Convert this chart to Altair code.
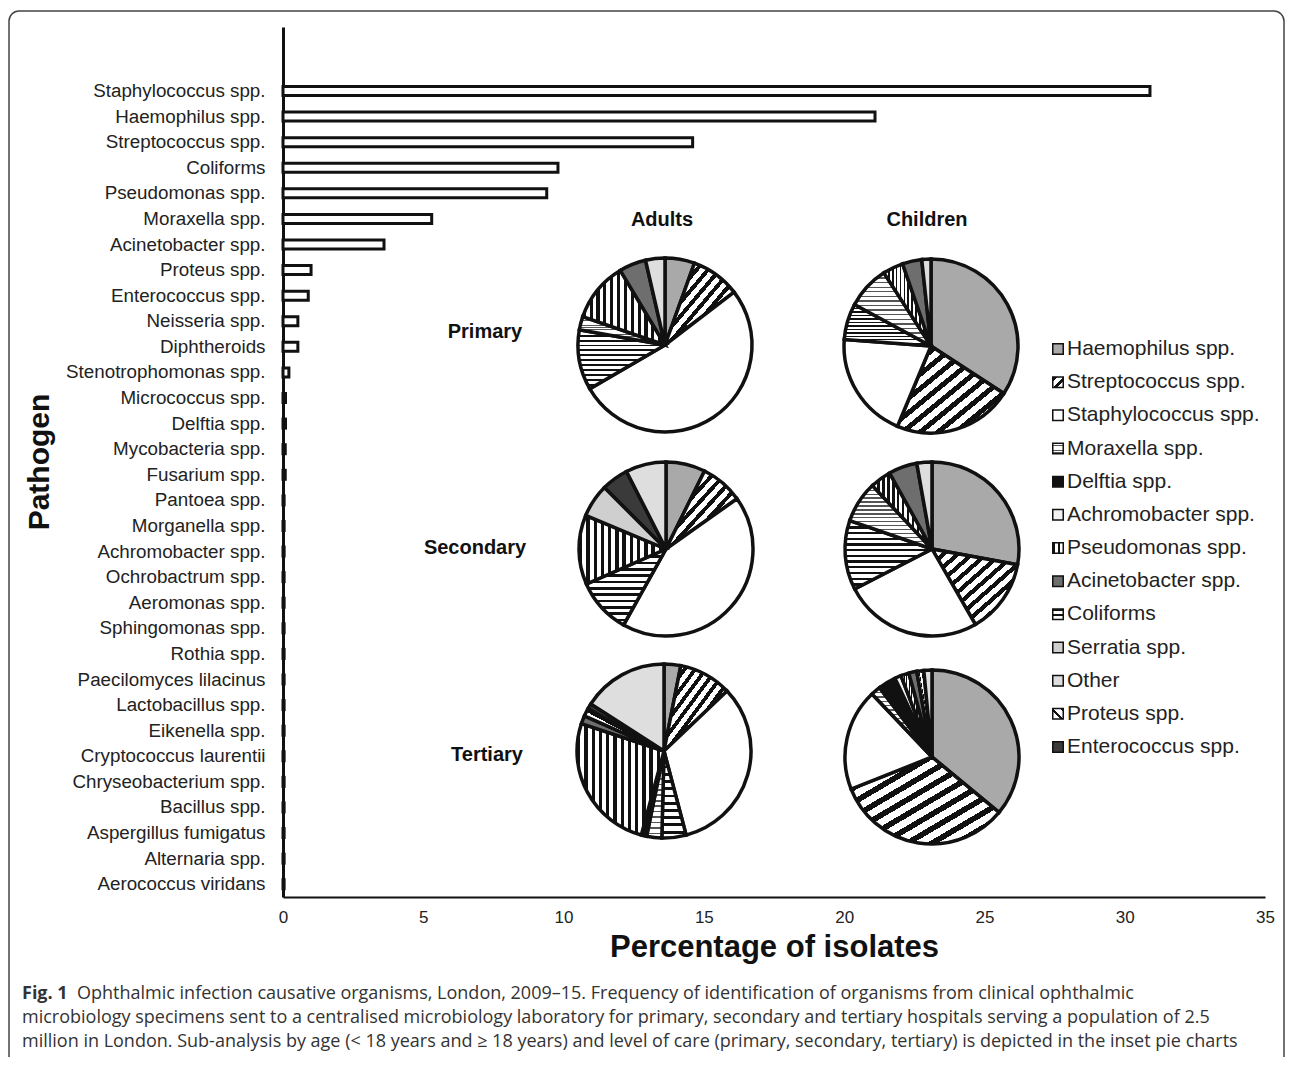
import math
import altair as alt
import pandas as pd

# ---------------- data ----------------
PATHOGENS = [
    "Staphylococcus spp.", "Haemophilus spp.", "Streptococcus spp.", "Coliforms",
    "Pseudomonas spp.", "Moraxella spp.", "Acinetobacter spp.", "Proteus spp.",
    "Enterococcus spp.", "Neisseria spp.", "Diphtheroids", "Stenotrophomonas spp.",
    "Micrococcus spp.", "Delftia spp.", "Mycobacteria spp.", "Fusarium spp.",
    "Pantoea spp.", "Morganella spp.", "Achromobacter spp.", "Ochrobactrum spp.",
    "Aeromonas spp.", "Sphingomonas spp.", "Rothia spp.", "Paecilomyces lilacinus",
    "Lactobacillus spp.", "Eikenella spp.", "Cryptococcus laurentii",
    "Chryseobacterium spp.", "Bacillus spp.", "Aspergillus fumigatus",
    "Alternaria spp.", "Aerococcus viridans",
]
PERCENT = [
    30.9, 21.1, 14.6, 9.8, 9.4, 5.3, 3.6, 1.0,
    0.9, 0.53, 0.53, 0.21, 0.09, 0.09, 0.08, 0.08,
    0.04, 0.04, 0.04, 0.04, 0.04, 0.04, 0.04, 0.04,
    0.04, 0.04, 0.04, 0.04, 0.04, 0.04, 0.04, 0.04,
]
X_TICKS = [0, 5, 10, 15, 20, 25, 30, 35]

PIE_CATEGORIES = [
    "Haemophilus spp.", "Streptococcus spp.", "Staphylococcus spp.", "Coliforms",
    "Moraxella spp.", "Delftia spp.", "Achromobacter spp.", "Pseudomonas spp.",
    "Serratia spp.", "Acinetobacter spp.", "Proteus spp.", "Enterococcus spp.", "Other",
]
ADULTS_PRIMARY = [5.5, 9.1, 52.0, 11.2, 2.5, 0, 0, 11.1, 0, 5.0, 0, 0, 3.6]
CHILDREN_PRIMARY = [34.2, 22.1, 19.9, 6.7, 8.0, 0, 0, 3.8, 0, 3.6, 0, 0, 1.7]
ADULTS_SECONDARY = [7.3, 7.9, 42.9, 10.3, 0, 0, 0, 12.9, 6.2, 0, 0, 5.0, 7.5]
CHILDREN_SECONDARY = [27.9, 13.8, 25.7, 12.9, 7.7, 0, 0, 3.9, 0, 5.3, 0, 0, 2.8]
ADULTS_TERTIARY = [3.1, 9.8, 33.0, 4.5, 2.8, 1.0, 0, 25.9, 0, 1.5, 1.5, 1.0, 15.9]
CHILDREN_TERTIARY = [36.0, 33.0, 18.9, 0, 1.8, 3.3, 1.2, 1.5, 0, 1.5, 1.3, 0, 1.5]

LEGEND_ORDER = [
    "Haemophilus spp.", "Streptococcus spp.", "Staphylococcus spp.", "Moraxella spp.",
    "Delftia spp.", "Achromobacter spp.", "Pseudomonas spp.", "Acinetobacter spp.",
    "Coliforms", "Serratia spp.", "Other", "Proteus spp.", "Enterococcus spp.",
]

CAPTION_BOLD = "Fig. 1"
CAPTION = [
    "Ophthalmic infection causative organisms, London, 2009–15. Frequency of identification of organisms from clinical ophthalmic",
    "microbiology specimens sent to a centralised microbiology laboratory for primary, secondary and tertiary hospitals serving a population of 2.5",
    "million in London. Sub-analysis by age (< 18 years and ≥ 18 years) and level of care (primary, secondary, tertiary) is depicted in the inset pie charts",
]

# ---------------- layout ----------------
W, H = 982, 870
R = 87
PIE_LAYOUT = {  # pie name -> (series, centre x, centre y) in plot pixels
    "Adults Primary": (ADULTS_PRIMARY, 382, 318),
    "Children Primary": (CHILDREN_PRIMARY, 648, 319),
    "Adults Secondary": (ADULTS_SECONDARY, 383, 522),
    "Children Secondary": (CHILDREN_SECONDARY, 649, 522),
    "Adults Tertiary": (ADULTS_TERTIARY, 381, 724),
    "Children Tertiary": (CHILDREN_TERTIARY, 649, 730),
}
AXFONT = "Liberation Sans"
INK = "#111111"

# y domain: two empty rows on top, as in the original
Y_DOMAIN = [" ", "  "] + PATHOGENS
bar_df = pd.DataFrame({"pathogen": PATHOGENS, "pct": PERCENT})

rows = []
for name, (series, cx, cy) in PIE_LAYOUT.items():
    for i, (cat, v) in enumerate(zip(PIE_CATEGORIES, series)):
        rows.append({"pie": name, "cx": cx, "cy": cy, "category": cat, "order": i, "value": v})
pie_df = pd.DataFrame(rows)
legend_df = pd.DataFrame({"label": LEGEND_ORDER, "idx": list(range(len(LEGEND_ORDER)))})


def stripes(n, frac, x1, y1, x2, y2, dark=INK, light="#ffffff"):
    stops = []
    for i in range(n):
        a, b, c = i / n, (i + frac) / n, (i + 1) / n
        stops += [
            {"offset": round(a, 4), "color": dark},
            {"offset": round(b, 4), "color": dark},
            {"offset": round(b, 4), "color": light},
            {"offset": round(c, 4), "color": light},
        ]
    return {"gradient": "linear", "x1": x1, "y1": y1, "x2": x2, "y2": y2, "stops": stops}


def style(cat, n):
    if cat == "Haemophilus spp.":
        return "#a9a9a9"
    if cat == "Streptococcus spp.":
        return stripes(n, 0.45, 0, 0, 1, 1)
    if cat == "Staphylococcus spp.":
        return "#ffffff"
    if cat == "Coliforms":
        return stripes(n, 0.4, 0, 0, 0, 1)
    if cat == "Moraxella spp.":
        return stripes(n + 4, 0.3, 0, 0, 0, 1, dark="#555555")
    if cat == "Delftia spp.":
        return INK
    if cat == "Achromobacter spp.":
        return "#f2f2f2"
    if cat == "Pseudomonas spp.":
        return stripes(n, 0.45, 0, 0, 1, 0)
    if cat == "Serratia spp.":
        return "#cfcfcf"
    if cat == "Acinetobacter spp.":
        return "#6e6e6e"
    if cat == "Proteus spp.":
        return stripes(n, 0.3, 1, 0, 0, 1)
    if cat == "Enterococcus spp.":
        return "#3a3a3a"
    return "#dedede"  # Other


# ---------------- bar chart ----------------
bars = alt.Chart(bar_df).mark_bar(size=9, fill="white", stroke=INK, strokeWidth=3).encode(
    x=alt.X(
        "pct:Q",
        scale=alt.Scale(domain=[0, 35], nice=False, zero=True),
        axis=alt.Axis(
            values=X_TICKS, grid=False, ticks=False, labelFont=AXFONT, labelFontSize=17,
            labelColor="#222222", labelPadding=12, labelFlush=False, domainColor=INK,
            domainWidth=2, title="Percentage of isolates", titleFont=AXFONT,
            titleFontSize=31, titleFontWeight="bold", titleColor=INK, titlePadding=7,
        ),
    ),
    y=alt.Y(
        "pathogen:N",
        sort=Y_DOMAIN,
        scale=alt.Scale(domain=Y_DOMAIN, paddingInner=0, paddingOuter=0),
        axis=alt.Axis(
            ticks=False, grid=False, labelFont=AXFONT, labelFontSize=18.8,
            labelColor="#222222", labelPadding=18, domainColor=INK, domainWidth=3,
            title=None, labelLimit=300,
        ),
    ),
)

y_title = alt.Chart(pd.DataFrame({"t": ["Pathogen"]})).mark_text(
    angle=270, font=AXFONT, fontSize=30, fontWeight="bold", color=INK,
    align="center", baseline="middle",
).encode(x=alt.value(-243), y=alt.value(435), text="t:N")

# ---------------- pies ----------------
theta_scale = alt.Scale(domain=[0, 100], range=[0, 2 * math.pi])
pie_base = alt.Chart(pie_df).transform_stack(
    stack="value", groupby=["pie"], as_=["start", "end"], sort=[alt.SortField("order")]
)
pie_layers = []
for cat in PIE_CATEGORIES:
    pie_layers.append(
        pie_base.transform_filter((alt.datum.category == cat) & (alt.datum.value > 0))
        .mark_arc(outerRadius=R, stroke=INK, strokeWidth=3.5, fill=style(cat, 12))
        .encode(
            x=alt.X("cx:Q", scale=None, axis=None),
            y=alt.Y("cy:Q", scale=None, axis=None),
            theta=alt.Theta("start:Q", scale=theta_scale),
            theta2="end:Q",
        )
    )

# ---------------- legend ----------------
leg_scale = alt.Scale(domain=[0, 12], range=[322, 720])
legend_layers = []
for cat in LEGEND_ORDER:
    legend_layers.append(
        alt.Chart(legend_df).transform_filter(alt.datum.label == cat)
        .mark_square(size=110, stroke=INK, strokeWidth=1.5, fill=style(cat, 2), opacity=1)
        .encode(x=alt.value(775), y=alt.Y("idx:Q", scale=leg_scale, axis=None))
    )
legend_text = alt.Chart(legend_df).mark_text(
    align="left", baseline="middle", font=AXFONT, fontSize=21, color="#222222"
).encode(x=alt.value(784), y=alt.Y("idx:Q", scale=leg_scale, axis=None), text="label:N")

# ---------------- annotations ----------------
def label(txt, x, y, size=20, weight="bold", font=AXFONT, align="center", color=INK):
    return alt.Chart(pd.DataFrame({"t": [txt]})).mark_text(
        font=font, fontSize=size, fontWeight=weight, align=align, baseline="middle", color=color
    ).encode(x=alt.value(x), y=alt.value(y), text="t:N")

headers = [
    label("Adults", 379, 193),
    label("Children", 644, 193),
    label("Primary", 202, 305),
    label("Secondary", 192, 521),
    label("Tertiary", 204, 728),
]

CAP_FONT = "Open Sans"
CAP_SIZE = 18
caption = [
    label(CAPTION_BOLD, -261, 967, size=CAP_SIZE, weight="bold", font=CAP_FONT, align="left", color="#333333"),
    label(CAPTION[0], -206, 967, size=CAP_SIZE, weight="normal", font=CAP_FONT, align="left", color="#333333"),
    label(CAPTION[1], -261, 991, size=CAP_SIZE, weight="normal", font=CAP_FONT, align="left", color="#333333"),
    label(CAPTION[2], -261, 1015, size=CAP_SIZE, weight="normal", font=CAP_FONT, align="left", color="#333333"),
]

frame = alt.Chart(pd.DataFrame({"k": [0]})).mark_rect(
    fill="white", fillOpacity=0, stroke="#444444", strokeWidth=1.5, cornerRadius=10
).encode(x=alt.value(-274), x2=alt.value(1001), y=alt.value(-16), y2=alt.value(1045))

chart = alt.layer(
    frame, bars, y_title, *pie_layers, *legend_layers, legend_text, *headers, *caption
).resolve_scale(x="independent", y="independent").properties(
    width=W, height=H,
    autosize=alt.AutoSizeParams(type="none"),
    padding={"left": 275, "top": 19, "right": 22, "bottom": 160},
    background="white",
).configure_view(stroke=None)

chart.save("out.html", embed_options={"renderer": "svg", "actions": False})
